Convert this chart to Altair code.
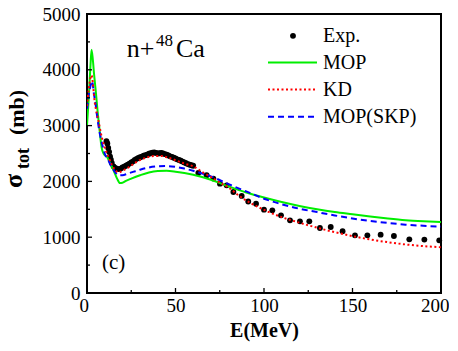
import altair as alt
import pandas as pd

# ---------------- data ----------------
E_exp = [11, 11.5, 12, 12.5, 13, 13.5, 14, 15, 16, 17, 18, 19, 20, 21, 22, 23, 24, 25,
         26, 27, 28, 29, 30, 31, 32, 33, 34, 35, 36, 37, 38, 39, 40, 41, 42, 43, 44,
         45, 46, 47, 48, 49, 50, 51, 52, 53, 54, 55, 56, 57, 58, 59, 60,
         62.9, 67.6, 71.4, 75.1, 78.9, 82.7, 87.4, 91.1, 95.5, 100, 104.7, 109.6,
         114.7, 120.3, 125.6, 131.6, 137.7, 144.4, 151.4, 158.4, 165.9, 173.4,
         182.1, 190.6, 199]
S_exp = [2720, 2680, 2600, 2530, 2450, 2390, 2330, 2270, 2240, 2225, 2220, 2230, 2250,
         2265, 2280, 2300, 2320, 2340, 2360, 2385, 2405, 2420, 2435, 2445, 2460, 2470,
         2480, 2495, 2505, 2515, 2520, 2510, 2500, 2505, 2510, 2500, 2490, 2480, 2465,
         2450, 2440, 2425, 2410, 2395, 2385, 2370, 2355, 2340, 2325, 2310, 2300, 2290,
         2280,
         2150, 2110, 2050, 1960, 1930, 1810, 1740, 1640, 1600, 1494, 1482, 1392,
         1303, 1285, 1285, 1165, 1183, 1106, 1034, 1034, 1046, 1022,
         962, 957, 944]

E_mop = [0, 1, 2, 2.6, 4, 5, 6, 7, 8.3, 9.5, 11.5, 13, 15, 17, 18.6, 20, 22, 25, 30,
         35, 40, 45, 50, 55, 60, 70, 80, 90, 100, 110, 120, 130, 140, 150, 160, 170,
         180, 190, 200]
S_mop = [3000, 3500, 4100, 4360, 3920, 3600, 3250, 2950, 2600, 2490, 2430, 2330, 2200,
         2050, 1970, 1975, 2010, 2050, 2110, 2160, 2185, 2190, 2175, 2150, 2120, 2030,
         1910, 1800, 1710, 1630, 1560, 1500, 1450, 1410, 1370, 1335, 1305, 1285, 1270]

E_kd = [0, 1, 2.5, 4.5, 6.4, 8.3, 10.2, 12, 14, 16, 18, 20, 24, 28, 33, 38, 42, 46, 50,
        55, 60, 65, 70, 75, 80, 86, 92, 100, 110, 120, 130, 140, 150, 160, 170, 180,
        190, 200]
S_kd = [3350, 3650, 3900, 3390, 3095, 2800, 2590, 2450, 2300, 2200, 2160, 2190, 2260,
        2350, 2420, 2455, 2455, 2425, 2380, 2320, 2270, 2170, 2080, 1980, 1890, 1740,
        1620, 1490, 1360, 1260, 1170, 1090, 1020, 960, 910, 870, 840, 820]

E_skp = [0, 1, 2, 2.8, 4, 5, 6, 7, 8.3, 10, 12, 14, 16, 18, 20, 23, 26, 30, 35, 40, 45,
         50, 55, 60, 70, 80, 90, 100, 110, 120, 130, 140, 150, 160, 170, 180, 190, 200]
S_skp = [3300, 3550, 3720, 3800, 3550, 3350, 3100, 2900, 2700, 2500, 2380, 2260, 2160,
         2110, 2110, 2140, 2170, 2210, 2250, 2270, 2275, 2260, 2230, 2190, 2090, 1950,
         1820, 1690, 1590, 1510, 1450, 1390, 1335, 1290, 1255, 1225, 1205, 1190]

x_major = [0, 50, 100, 150, 200]
x_minor = [25, 75, 125, 175]
y_major = [0, 1000, 2000, 3000, 4000, 5000]
y_minor = [500, 1500, 2500, 3500, 4500]

legend_labels = ["Exp.", "MOP", "KD", "MOP(SKP)"]

# ---------------- chart ----------------
W, H = 354, 279
SERIF = "Liberation Serif, Times New Roman, serif"
GREEN, RED, BLUE = "#00ee00", "#ff0000", "#0000ff"

xs = alt.Scale(domain=[0, 200], nice=False, zero=False)
ys = alt.Scale(domain=[0, 5000], nice=False)

df_exp = pd.DataFrame({"E": E_exp, "s": S_exp})
df_mop = pd.DataFrame({"E": E_mop, "s": S_mop})
df_kd = pd.DataFrame({"E": E_kd, "s": S_kd})
df_skp = pd.DataFrame({"E": E_skp, "s": S_skp})

x_axis = alt.Axis(values=x_major, ticks=False, tickSize=0, grid=False, domain=False,
                  format="d",
                  labelFont=SERIF, labelFontSize=19, labelColor="black", labelPadding=3,
                  labelFlush=True, labelFlushOffset=8,
                  title="E(MeV)", titleFont=SERIF, titleFontSize=20, titleFontWeight="bold",
                  titleColor="black", titlePadding=5)
y_axis = alt.Axis(values=y_major, ticks=False, tickSize=0, grid=False, domain=False,
                  format="d",
                  labelFont=SERIF, labelFontSize=19, labelColor="black", labelPadding=7,
                  title=None, labelFlush=False)


def X(field):
    return alt.X(field, scale=xs, axis=x_axis)


def Y(field):
    return alt.Y(field, scale=ys, axis=y_axis)


exp = alt.Chart(df_exp).mark_circle(size=34, color="black", opacity=1).encode(
    x=X("E:Q"), y=Y("s:Q"))


def curve(df, color, dash=None):
    kw = dict(color=color, strokeWidth=2, interpolate="monotone", clip=True)
    if dash:
        kw["strokeDash"] = dash
    return alt.Chart(df).mark_line(**kw).encode(x=X("E:Q"), y=Y("s:Q"))


mop = curve(df_mop, GREEN)
skp = curve(df_skp, BLUE, [6, 4])
kd = curve(df_kd, RED, [2, 2.5])


# inward ticks
def xticks(vals, length):
    return alt.Chart(pd.DataFrame({"E": vals})).mark_rule(color="black", strokeWidth=1.3).encode(
        x=X("E:Q"), y=alt.value(H), y2=alt.value(H - length))


def yticks(vals, length):
    return alt.Chart(pd.DataFrame({"s": vals})).mark_rule(color="black", strokeWidth=1.3).encode(
        y=Y("s:Q"), x=alt.value(0), x2=alt.value(length))


ticks = [xticks(x_major, 5), xticks(x_minor, 3), yticks(y_major, 5), yticks(y_minor, 3)]

one = pd.DataFrame({"a": [0]})


def txt(text, x, y, size, weight="normal", align="left", baseline="alphabetic", angle=0):
    kw = dict(text=text, font=SERIF, fontSize=size, fontWeight=weight, align=align,
              baseline=baseline, color="black")
    if angle:
        kw["angle"] = angle
    return alt.Chart(one).mark_text(**kw).encode(x=alt.value(x), y=alt.value(y))


def leg_line(color, y, dash=None):
    kw = dict(color=color, strokeWidth=2)
    if dash:
        kw["strokeDash"] = dash
    return alt.Chart(one).mark_rule(**kw).encode(
        x=alt.value(181), x2=alt.value(230), y=alt.value(y))


rows = [21.8, 48.5, 75.5, 102.7]
legend = [
    alt.Chart(one).mark_circle(size=34, color="black", opacity=1).encode(
        x=alt.value(206), y=alt.value(rows[0])),
    leg_line(GREEN, rows[1]),
    leg_line(RED, rows[2], [2, 2.5]),
    leg_line(BLUE, rows[3], [6, 4]),
] + [txt(lbl, 236, r, 20, baseline="middle") for lbl, r in zip(legend_labels, rows)]

annots = [
    txt("n+", 39.7, 43.3, 26),
    txt("48", 69, 31.6, 17),
    txt("Ca", 89, 43.3, 26),
    txt("(c)", 15, 255, 21),
    # y title: sigma_tot (mb), rotated
    txt("σ", -65, 167, 26, weight="bold", align="center", angle=270),
    txt("tot", -58, 144.5, 18, weight="bold", align="center", angle=270),
    txt("(mb)", -63, 98.5, 22, weight="bold", align="center", angle=270),
]

chart = alt.layer(exp, mop, skp, kd, *ticks, *legend, *annots).properties(
    width=W, height=H,
    autosize=alt.AutoSizeParams(type="none"),
    padding={"left": 79, "top": 6, "right": 8, "bottom": 50},
    background="white",
).configure_view(stroke="black", strokeWidth=2)

chart.save("out.html", embed_options={"renderer": "svg", "actions": False})
